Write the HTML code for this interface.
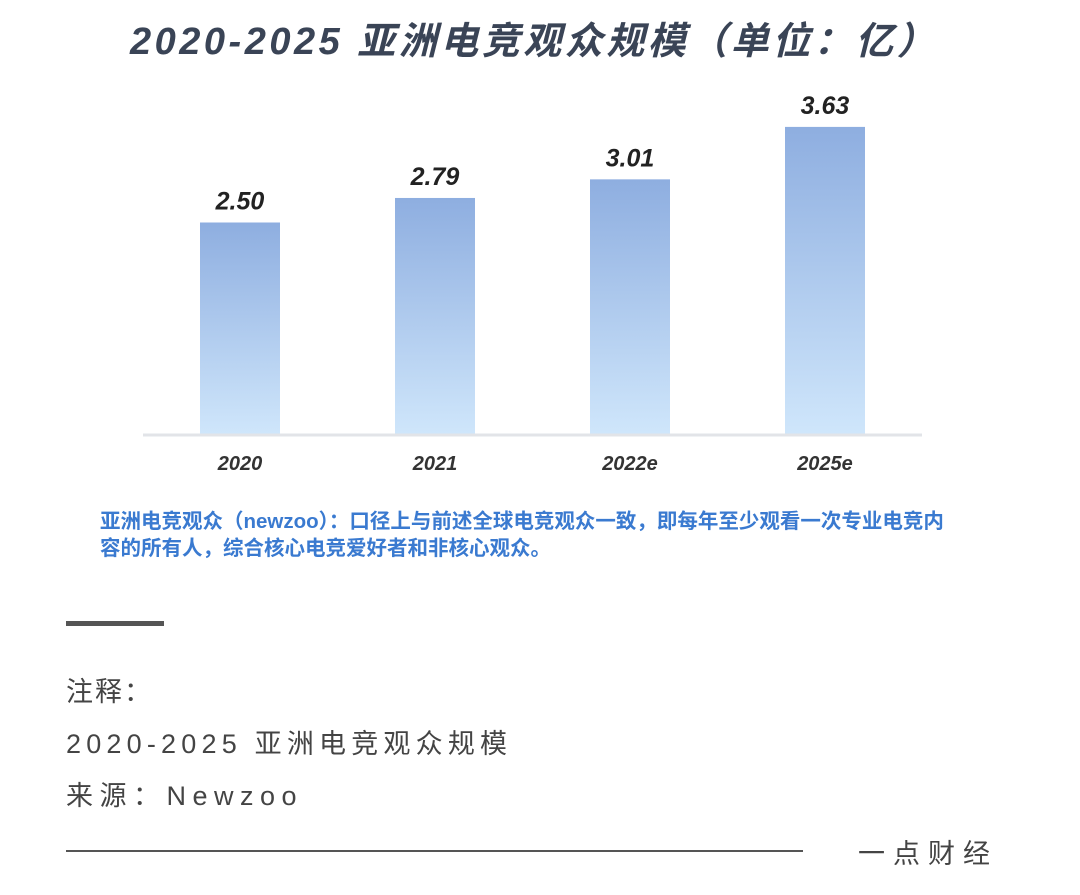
<!DOCTYPE html>
<html><head><meta charset="utf-8"><style>
body{margin:0;width:1080px;height:895px;background:#fff;overflow:hidden;font-family:"Liberation Sans","Noto Sans CJK SC",sans-serif;position:relative}
.t{position:absolute;white-space:nowrap}
</style></head><body>
<div class="t" style="left:130px;top:10px;font-size:38px;font-weight:bold;font-style:italic;color:#3a4456;letter-spacing:3.5px">2020-2025 亚洲电竞观众规模（单位：亿）</div>
<svg id="c" width="1080" height="500" style="position:absolute;left:0;top:0">
<defs><linearGradient id="g" x1="0" y1="0" x2="0" y2="1"><stop offset="0" stop-color="#8eaee0"/><stop offset="1" stop-color="#cfe6fb"/></linearGradient></defs>
</svg>
<div class="t" style="left:100px;top:508px;font-size:20.5px;line-height:27px;font-weight:bold;color:#3a7ad0">亚洲电竞观众（newzoo）：口径上与前述全球电竞观众一致，即每年至少观看一次专业电竞内<br>容的所有人，综合核心电竞爱好者和非核心观众。</div>
<div style="position:absolute;left:66px;top:621px;width:98px;height:5px;background:#555"></div>
<div class="t" style="left:66px;top:670px;font-size:27px;color:#444;letter-spacing:2px">注释：</div>
<div class="t" style="left:66px;top:722px;font-size:27px;color:#444;letter-spacing:5.2px">2020-2025 亚洲电竞观众规模</div>
<div class="t" style="left:66px;top:774px;font-size:27px;color:#444;letter-spacing:6.5px">来源：Newzoo</div>
<div style="position:absolute;left:66px;top:850px;width:737px;height:2px;background:#555"></div>
<div class="t" style="left:858px;top:832px;font-size:27px;color:#444;letter-spacing:8px">一点财经</div>
<script>
const categories=["2020","2021","2022e","2025e"];
const values=[2.50,2.79,3.01,3.63];
const labels=["2.50","2.79","3.01","3.63"];
const svg=document.getElementById('c');const NS="http://www.w3.org/2000/svg";
const base=434,k=84.6,x0=240,step=195,bw=80;
const y=v=>base-v*k;const x=i=>x0+i*step;
function mk(t,a){const e=document.createElementNS(NS,t);for(const n in a)e.setAttribute(n,a[n]);svg.appendChild(e);return e;}
categories.forEach((c,i)=>{
const r=mk('rect',{x:x(i)-bw/2,y:y(values[i]),width:bw,height:base-y(values[i]),fill:'url(#g)'});


const l=mk('text',{x:x(i),y:y(values[i])-13,'text-anchor':'middle','font-size':25,'font-weight':'bold','font-style':'italic',fill:'#222','font-family':'Liberation Sans'});l.textContent=labels[i];


const t=mk('text',{x:x(i),y:470,'text-anchor':'middle','font-size':20,'font-weight':'bold','font-style':'italic',fill:'#333','font-family':'Liberation Sans'});t.textContent=c;


});
const ax=mk('line',{x1:143,x2:922,y1:base+1,y2:base+1,stroke:'#e2e4e8','stroke-width':3});


</script>
</body></html>
